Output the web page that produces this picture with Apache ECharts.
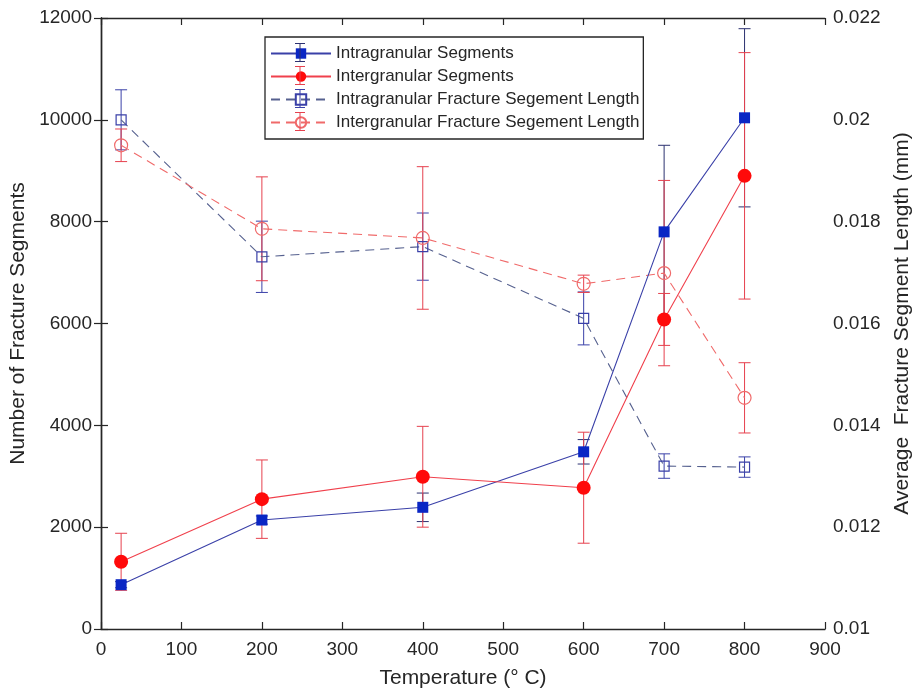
<!DOCTYPE html>
<html>
<head>
<meta charset="utf-8">
<title>Fracture segments vs temperature</title>
<script src="https://cdn.jsdelivr.net/npm/echarts@6/dist/echarts.min.js"></script>
<style>
  html, body { margin: 0; padding: 0; background: #ffffff; overflow: hidden; }
  #chart { width: 914px; height: 694px; }
</style>
</head>
<body>
<div id="chart"></div>
<script>
// Temperatures (°C) at which samples were examined
const temperature = [25, 200, 400, 600, 700, 800];

// Number of fracture segments (left axis), mean and half-width of error bar
const intraCount = [870, 2140, 2390, 3480, 7800, 10040];
const intraCountErr = [60, 80, 280, 240, 1700, 1750];
const interCount = [1320, 2550, 2990, 2775, 6080, 8900];
const interCountErr = [560, 770, 990, 1090, 510, 2420];

// Average fracture segment length in mm (right axis)
const intraLength = [0.0200, 0.01731, 0.01751, 0.0161, 0.0132, 0.01318];
const intraLengthErr = [0.00059, 0.0007, 0.00066, 0.00052, 0.00024, 0.0002];
const interLength = [0.0195, 0.01786, 0.01768, 0.01678, 0.01699, 0.01454];
const interLengthErr = [0.00032, 0.00102, 0.0014, 0.00017, 0.00182, 0.00069];

// Legend entries
const seriesNames = [
  'Intragranular Segments',
  'Intergranular Segments',
  'Intragranular Fracture Segement Length',
  'Intergranular Fracture Segement Length'
];

// Axis ranges
const xTicks = { min: 0, max: 900, step: 100 };
const countTicks = { min: 0, max: 12000, step: 2000 };
const lengthTicks = { min: 0.01, max: 0.022, step: 0.002 };

const FONT = '"Liberation Sans", Arial, Helvetica, sans-serif';
const INK = '#262626';

const BLUE_LINE = '#3a40a8';
const BLUE_MARK = '#0a26c4';
const BLUE_ERR = '#2c3170';
const BLUE_DASH = '#56618f';
const RED_LINE = '#f0404c';
const RED_MARK = '#ff0a0a';
const RED_ERR = '#e6414e';
const RED_DASH = '#f06a6a';

function pairs(xs, ys) { return xs.map((x, i) => [x, ys[i]]); }
function errRows(xs, ys, es) { return xs.map((x, i) => [x, ys[i] - es[i], ys[i] + es[i]]); }

function errorBars(name, rows, axisIndex, color) {
  return {
    name: name,
    type: 'custom',
    yAxisIndex: axisIndex,
    z: 1,
    silent: true,
    encode: { x: 0, y: [1, 2] },
    data: rows,
    renderItem: function (params, api) {
      const x = api.value(0);
      const top = api.coord([x, api.value(2)]);
      const bot = api.coord([x, api.value(1)]);
      const half = 6;
      const st = { stroke: color, lineWidth: 1, fill: null };
      return {
        type: 'group',
        children: [
          { type: 'line', shape: { x1: top[0], y1: top[1], x2: bot[0], y2: bot[1] }, style: st },
          { type: 'line', shape: { x1: top[0] - half, y1: top[1], x2: top[0] + half, y2: top[1] }, style: st },
          { type: 'line', shape: { x1: bot[0] - half, y1: bot[1], x2: bot[0] + half, y2: bot[1] }, style: st }
        ]
      };
    }
  };
}

// Small error-bar glyph drawn over each legend marker
const legendBox = { left: 265, top: 37, padLeft: 5, iconWidth: 60, firstRow: 52.5, rowStep: 23 };
const legendErrColors = [BLUE_ERR, RED_ERR, BLUE_LINE, RED_ERR];
function legendErrorGlyphs() {
  const cx = legendBox.left + legendBox.padLeft + legendBox.iconWidth / 2;
  return legendErrColors.map((color, i) => {
    const cy = legendBox.firstRow + i * legendBox.rowStep;
    const st = { stroke: color, lineWidth: 1, fill: null };
    return {
      type: 'group',
      z: 100,
      silent: true,
      children: [
        { type: 'line', z: 100, shape: { x1: cx, y1: cy - 9, x2: cx, y2: cy + 9 }, style: st },
        { type: 'line', z: 100, shape: { x1: cx - 5, y1: cy - 9, x2: cx + 5, y2: cy - 9 }, style: st },
        { type: 'line', z: 100, shape: { x1: cx - 5, y1: cy + 9, x2: cx + 5, y2: cy + 9 }, style: st }
      ]
    };
  });
}

const axisLineStyle = { color: INK, width: 1.4 };
const tickStyle = { show: true, inside: true, length: 7, lineStyle: { color: INK, width: 1.2 } };
const labelStyle = { color: INK, fontFamily: FONT, fontSize: 19 };
const nameStyle = { fontFamily: FONT, fontSize: 21, color: INK };

const chart = echarts.init(document.getElementById('chart'), null, { renderer: 'canvas' });

chart.setOption({
  backgroundColor: '#ffffff',
  animation: false,
  textStyle: { fontFamily: FONT, color: INK },
  grid: { left: 101, right: 89, top: 18, bottom: 65, containLabel: false, outerBoundsMode: 'none' },
  legend: {
    orient: 'vertical',
    left: legendBox.left,
    top: legendBox.top,
    padding: [8, 4, 8, legendBox.padLeft],
    itemGap: 6,
    itemWidth: legendBox.iconWidth,
    itemHeight: 13,
    borderColor: INK,
    borderWidth: 1.3,
    backgroundColor: '#ffffff',
    textStyle: { fontFamily: FONT, fontSize: 17, color: INK },
    data: seriesNames
  },
  graphic: legendErrorGlyphs(),
  xAxis: [
    {
      type: 'value',
      position: 'bottom',
      min: xTicks.min, max: xTicks.max, interval: xTicks.step,
      name: 'Temperature (° C)',
      nameLocation: 'middle',
      nameGap: 39,
      nameTextStyle: nameStyle,
      axisLine: { show: true, lineStyle: axisLineStyle },
      axisTick: tickStyle,
      axisLabel: Object.assign({ margin: 11 }, labelStyle),
      splitLine: { show: false }
    },
    {
      type: 'value',
      position: 'top',
      min: xTicks.min, max: xTicks.max, interval: xTicks.step,
      axisLine: { show: true, lineStyle: axisLineStyle },
      axisTick: tickStyle,
      axisLabel: { show: false },
      splitLine: { show: false }
    }
  ],
  yAxis: [
    {
      type: 'value',
      position: 'left',
      min: countTicks.min, max: countTicks.max, interval: countTicks.step,
      name: 'Number of Fracture Segments',
      nameLocation: 'middle',
      nameGap: 71,
      nameTextStyle: nameStyle,
      axisLine: { show: true, lineStyle: axisLineStyle },
      axisTick: tickStyle,
      axisLabel: Object.assign({ margin: 9, formatter: v => String(v) }, labelStyle),
      splitLine: { show: false }
    },
    {
      type: 'value',
      position: 'right',
      min: lengthTicks.min, max: lengthTicks.max, interval: lengthTicks.step,
      name: 'Average  Fracture Segment Length (mm)',
      nameLocation: 'middle',
      nameGap: 67,
      nameTextStyle: nameStyle,
      axisLine: { show: true, lineStyle: axisLineStyle },
      axisTick: tickStyle,
      axisLabel: Object.assign({ margin: 8, formatter: v => String(+v.toFixed(3)) }, labelStyle),
      splitLine: { show: false }
    }
  ],
  series: [
    errorBars('intraCountErr', errRows(temperature, intraCount, intraCountErr), 0, BLUE_ERR),
    errorBars('interCountErr', errRows(temperature, interCount, interCountErr), 0, RED_ERR),
    errorBars('intraLengthErr', errRows(temperature, intraLength, intraLengthErr), 1, BLUE_LINE),
    errorBars('interLengthErr', errRows(temperature, interLength, interLengthErr), 1, RED_ERR),
    {
      name: seriesNames[0],
      type: 'line',
      yAxisIndex: 0,
      z: 3,
      data: pairs(temperature, intraCount),
      symbol: 'rect',
      symbolSize: 11,
      lineStyle: { color: BLUE_LINE, width: 1.1 },
      itemStyle: { color: BLUE_MARK }
    },
    {
      name: seriesNames[1],
      type: 'line',
      yAxisIndex: 0,
      z: 3,
      data: pairs(temperature, interCount),
      symbol: 'circle',
      symbolSize: 14,
      lineStyle: { color: RED_LINE, width: 1.1 },
      itemStyle: { color: RED_MARK }
    },
    {
      name: seriesNames[2],
      type: 'line',
      yAxisIndex: 1,
      z: 2,
      data: pairs(temperature, intraLength),
      symbol: 'rect',
      symbolSize: 10,
      lineStyle: { color: BLUE_DASH, width: 1.1, type: [9, 6] },
      itemStyle: { color: 'rgba(0,0,0,0)', borderColor: BLUE_LINE, borderWidth: 1.2 }
    },
    {
      name: seriesNames[3],
      type: 'line',
      yAxisIndex: 1,
      z: 2,
      data: pairs(temperature, interLength),
      symbol: 'circle',
      symbolSize: 13,
      lineStyle: { color: RED_DASH, width: 1.1, type: [9, 6] },
      itemStyle: { color: 'rgba(0,0,0,0)', borderColor: RED_DASH, borderWidth: 1.2 }
    }
  ]
});
</script>
</body>
</html>
